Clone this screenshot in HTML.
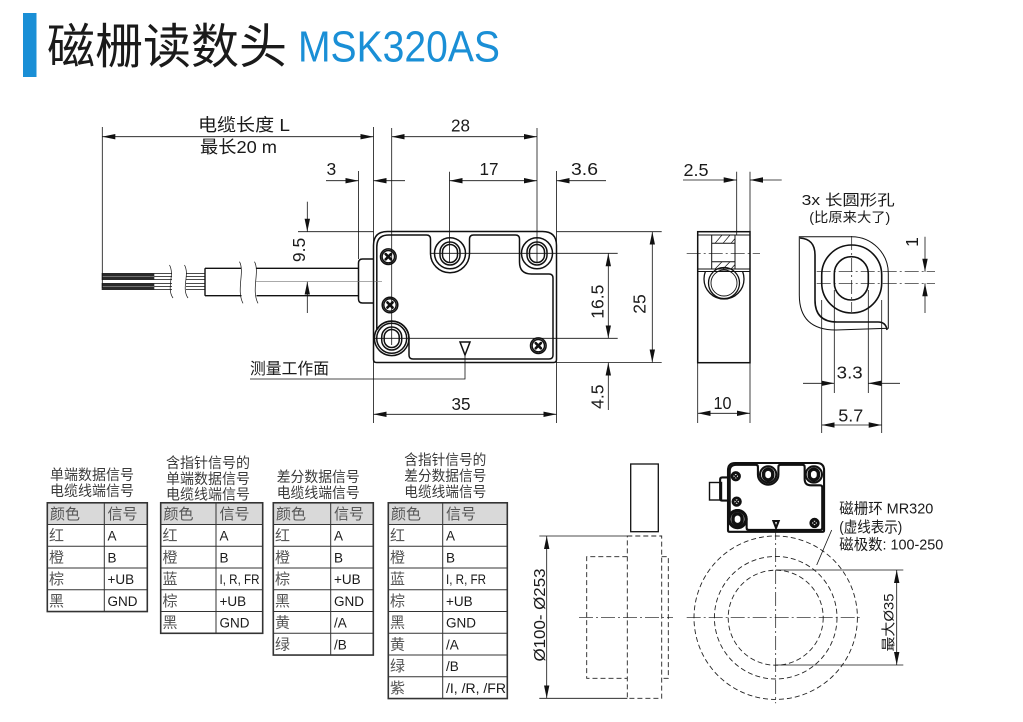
<!DOCTYPE html>
<html><head><meta charset="utf-8"><style>
html,body{margin:0;padding:0;background:#fff;}
svg{display:block;}
text{font-family:"Liberation Sans","Noto Sans CJK SC",sans-serif;fill:#1a1a1a;}
.d{stroke:#111;stroke-width:0.8;fill:none;}
.c{stroke:#111;stroke-width:0.7;fill:none;stroke-dasharray:14,3,2,3;}
.ds{stroke:#222;stroke-width:0.9;fill:none;stroke-dasharray:5,3;}
.cj{font-size:15px;fill:#555;}
.lt{font-size:13.5px;fill:#1a1a1a;}
.tt{font-size:14.5px;fill:#3a3a3a;}
</style></head><body>
<svg width="1023" height="722" viewBox="0 0 1023 722" xmlns="http://www.w3.org/2000/svg">
<defs>
<marker id="ar" viewBox="0 0 13 6" refX="13" refY="3" markerWidth="13" markerHeight="6" markerUnits="userSpaceOnUse" orient="auto-start-reverse"><path d="M0,0.3 L13,3 L0,5.7 Z" fill="#111"/></marker>
<clipPath id="clp"><rect x="690" y="271.5" width="70" height="40"/></clipPath>
<g id="body" fill="none">
<path d="M387.5,231.5 L542.5,231.5 Q556.5,231.5 556.5,245.5 L556.5,359.5 Q556.5,362.5 553.5,362.5 L376.5,362.5 Q373.5,362.5 373.5,359.5 L373.5,245.5 Q373.5,231.5 387.5,231.5 Z"/>
<path d="M376.8,329.7 L376.8,247 Q376.8,235 388.8,235 L426.5,235 Q430.5,235 430.5,239 L430.5,253.3 A19.5,19.5 0 0 0 469.5,253.3 L469.5,239 Q469.5,235 473.5,235 L515.5,235 Q519.5,235 519.5,239 L519.5,262 Q519.5,274 531.5,274 L549,274 Q553,274 553,278 L553,355 Q553,359 549,359 L413,359 Q409,359 409,355 L409,338.3 A17.3,17.3 0 0 0 376.8,329.7"/>
<circle cx="391.7" cy="338.3" r="17.3"/>
<circle cx="450" cy="253.3" r="15.5"/><rect x="440" y="242" width="20" height="23" rx="10"/><rect x="442.5" y="244.5" width="15" height="18" rx="7.5"/>
<circle cx="537" cy="253.3" r="15.5"/><rect x="527" y="242" width="20" height="23" rx="10"/><rect x="529.5" y="244.5" width="15" height="18" rx="7.5"/>
<circle cx="391.7" cy="338.3" r="15"/><rect x="381.7" y="327" width="20" height="23" rx="10"/><rect x="384.2" y="329.5" width="15" height="18" rx="7.5"/>
<g transform="translate(388.3,256.7)"><circle r="7.8"/><circle r="6.2"/><path d="M-2.6,-2.6 L2.6,2.6 M-2.6,2.6 L2.6,-2.6" stroke-width="2.6" stroke-linecap="round"/></g>
<g transform="translate(390,305)"><circle r="7.8"/><circle r="6.2"/><path d="M-2.6,-2.6 L2.6,2.6 M-2.6,2.6 L2.6,-2.6" stroke-width="2.6" stroke-linecap="round"/></g>
<g transform="translate(538.3,345.7)"><circle r="7.8"/><circle r="6.2"/><path d="M-2.6,-2.6 L2.6,2.6 M-2.6,2.6 L2.6,-2.6" stroke-width="2.6" stroke-linecap="round"/></g>
<path d="M460,342 L470,342 L465,355 Z"/>
<path d="M373.5,259 L362.5,259 Q358.5,259 358.5,263 L358.5,299 Q358.5,303 362.5,303 L373.5,303"/>
</g>
</defs>

<!-- Title -->
<rect x="23" y="13" width="13.5" height="64" fill="#1a8fd6"/>
<text x="47" y="63" font-size="48" textLength="240" lengthAdjust="spacingAndGlyphs" style="fill:#1a1a1a">磁栅读数头</text>
<text x="298" y="61.7" font-size="44" textLength="202" lengthAdjust="spacingAndGlyphs" style="fill:#1a8fd6">MSK320AS</text>

<!-- main body -->
<use href="#body" stroke="#111" stroke-width="1.5"/>

<!-- cable -->
<g stroke="#111" fill="none">
<path d="M205,268.3 L241.5,268.3 M256.5,268.3 L358.5,268.3 M205,295.7 L241.5,295.7 M256.5,295.7 L358.5,295.7 M205,268.3 L205,295.7" stroke-width="1.4"/>
<path d="M239.5,261.7 C245,272 236,290 243,303.3 M254.5,261.7 C260,272 251,290 258,303.3" stroke-width="0.7"/>
<path d="M169.5,265 C175,275 166,288 173,298 M184.5,265 C190,275 181,288 188,298" stroke-width="0.7"/>
<path d="M154,273.5 L172,273.5 M154,276.5 L172,276.5 M154,279.5 L172,279.5 M154,283.5 L172,283.5 M154,286.5 L172,286.5 M154,289.5 L172,289.5" stroke-width="0.8"/>
<path d="M186,273.5 L205,273.5 M186,276.5 L205,276.5 M186,279.5 L205,279.5 M186,283.5 L205,283.5 M186,286.5 L205,286.5 M186,289.5 L205,289.5" stroke-width="0.8"/>
</g>
<rect x="101.7" y="273" width="52.6" height="7" fill="#2a2a2a"/>
<rect x="101.7" y="283" width="52.6" height="7" fill="#2a2a2a"/>
<line x1="101.7" y1="276.5" x2="154.3" y2="276.5" stroke="#888" stroke-width="0.8"/>
<line x1="101.7" y1="286.5" x2="154.3" y2="286.5" stroke="#888" stroke-width="0.8"/>
<line x1="256" y1="281.7" x2="382" y2="281.7" stroke="#777" stroke-width="0.7"/>

<!-- main dims -->
<g class="d">
<line x1="102.3" y1="127" x2="102.3" y2="288"/>
<line x1="373.5" y1="127" x2="373.5" y2="423"/>
<line x1="102.3" y1="136.7" x2="373.5" y2="136.7" marker-start="url(#ar)" marker-end="url(#ar)"/>
<line x1="391.7" y1="128" x2="391.7" y2="345"/>
<line x1="537" y1="128" x2="537" y2="262"/>
<line x1="391.7" y1="136.7" x2="537" y2="136.7" marker-start="url(#ar)" marker-end="url(#ar)"/>
<line x1="358.5" y1="171" x2="358.5" y2="259"/>
<line x1="326" y1="180.7" x2="358.5" y2="180.7" marker-end="url(#ar)"/>
<line x1="405" y1="180.7" x2="373.5" y2="180.7" marker-end="url(#ar)"/>
<line x1="449.5" y1="171.7" x2="449.5" y2="262"/>
<line x1="449.5" y1="180.7" x2="537" y2="180.7" marker-start="url(#ar)" marker-end="url(#ar)"/>
<line x1="556.5" y1="171" x2="556.5" y2="423"/>
<line x1="606" y1="180.7" x2="556.5" y2="180.7" marker-end="url(#ar)"/>
<line x1="298" y1="231.7" x2="373.5" y2="231.7"/>
<line x1="307.3" y1="201.7" x2="307.3" y2="231.7" marker-end="url(#ar)"/>
<line x1="307.3" y1="313" x2="307.3" y2="281.7" marker-end="url(#ar)"/>
<line x1="430" y1="253.3" x2="617.7" y2="253.3"/>
<line x1="375" y1="338.3" x2="617.7" y2="338.3"/>
<line x1="608.3" y1="253.3" x2="608.3" y2="338.3" marker-start="url(#ar)" marker-end="url(#ar)"/>
<line x1="608.3" y1="410" x2="608.3" y2="362.5" marker-end="url(#ar)"/>
<line x1="556.5" y1="231.7" x2="661.7" y2="231.7"/>
<line x1="556.5" y1="362.5" x2="661.7" y2="362.5"/>
<line x1="652.3" y1="231.7" x2="652.3" y2="362.5" marker-start="url(#ar)" marker-end="url(#ar)"/>
<line x1="373.5" y1="414.3" x2="556.5" y2="414.3" marker-start="url(#ar)" marker-end="url(#ar)"/>
<polyline points="465,355 465,379 250,379"/>
</g>
<text x="198" y="131" font-size="17.5" textLength="92" lengthAdjust="spacingAndGlyphs">电缆长度 L</text>
<text x="200" y="153" font-size="17.5" textLength="77" lengthAdjust="spacingAndGlyphs">最长20 m</text>
<text x="451" y="131.5" font-size="17.5" textLength="19" lengthAdjust="spacingAndGlyphs">28</text>
<text x="479.5" y="175" font-size="17.5" textLength="19" lengthAdjust="spacingAndGlyphs">17</text>
<text x="571" y="175" font-size="17.5" textLength="27" lengthAdjust="spacingAndGlyphs">3.6</text>
<text x="326.5" y="175" font-size="17.5">3</text>
<text x="451.5" y="410" font-size="17.5" textLength="19" lengthAdjust="spacingAndGlyphs">35</text>
<text transform="translate(645.5,304) rotate(-90)" text-anchor="middle" font-size="17.5">25</text>
<text transform="translate(603.5,301.7) rotate(-90)" text-anchor="middle" font-size="17.5">16.5</text>
<text transform="translate(603.5,396.7) rotate(-90)" text-anchor="middle" font-size="17.5">4.5</text>
<text transform="translate(305,250) rotate(-90)" text-anchor="middle" font-size="17.5">9.5</text>
<text x="250" y="374" font-size="16" textLength="79" lengthAdjust="spacingAndGlyphs">测量工作面</text>

<!-- side view -->
<g stroke="#111" fill="none">
<rect x="697.7" y="231.7" width="52.3" height="131" stroke-width="1.5"/>
<path d="M697.7,235 L750,235 M711.7,235 L711.7,269 M735,235 L735,269 M711.7,243.3 L735,243.3 M711.7,261.7 L735,261.7 M697.7,269 L750,269 M697.7,271.5 L750,271.5" stroke-width="1"/>
<path d="M715,243.3 L722,235 M723,243.3 L730,235 M731,243.3 L735,238.5 M715,269 L722,261.7 M723,269 L730,261.7 M731,269 L735,264.5" stroke-width="0.7"/>
<circle cx="724" cy="279" r="20" stroke-width="1.3" clip-path="url(#clp)"/>
<circle cx="724" cy="283" r="15.5" stroke-width="1.3"/>
<circle cx="724" cy="283" r="13" stroke-width="0.9"/>
</g>
<line class="c" x1="686.7" y1="253.3" x2="760" y2="253.3"/>
<g class="d">
<line x1="736.7" y1="171.7" x2="736.7" y2="235"/>
<line x1="750" y1="171.7" x2="750" y2="232"/>
<line x1="683" y1="180" x2="736.7" y2="180" marker-end="url(#ar)"/>
<line x1="781.7" y1="180" x2="750" y2="180" marker-end="url(#ar)"/>
<line x1="697.7" y1="362" x2="697.7" y2="423"/>
<line x1="750" y1="362" x2="750" y2="423"/>
<line x1="697.7" y1="413.3" x2="750" y2="413.3" marker-start="url(#ar)" marker-end="url(#ar)"/>
</g>
<text x="683.5" y="176" font-size="17.5" textLength="25" lengthAdjust="spacingAndGlyphs">2.5</text>
<text x="713.5" y="409" font-size="17.5" textLength="18" lengthAdjust="spacingAndGlyphs">10</text>

<!-- enlarged hole -->
<g stroke="#111" fill="none">
<path d="M799.3,236.7 L851.7,236.7 A36.7,36.7 0 0 1 888.3,273.3 L888.3,328.3 L836,330 Q799.3,330 799.3,295 Z" stroke-width="1"/>
<path d="M800,238 Q815,239 815,255 L815,300 Q815,322 837,322 L878,322 Q886,322 887,330" stroke-width="1.6"/>
<rect x="821.7" y="245" width="60" height="68" rx="30" stroke-width="1.6"/>
<rect x="834.3" y="256.7" width="34" height="43.3" rx="17" stroke-width="1.6"/>
</g>
<line class="c" x1="851.7" y1="236" x2="851.7" y2="312"/>
<line class="c" x1="816.7" y1="271.7" x2="935" y2="271.7"/>
<line class="c" x1="816.7" y1="283.3" x2="935" y2="283.3"/>
<g class="d">
<line x1="925" y1="236.7" x2="925" y2="271.7" marker-end="url(#ar)"/>
<line x1="925" y1="313" x2="925" y2="283.3" marker-end="url(#ar)"/>
<line x1="834.3" y1="290" x2="834.3" y2="393"/>
<line x1="868.3" y1="290" x2="868.3" y2="393"/>
<line x1="803" y1="383.3" x2="834.3" y2="383.3" marker-end="url(#ar)"/>
<line x1="900" y1="383.3" x2="868.3" y2="383.3" marker-end="url(#ar)"/>
<line x1="821.7" y1="300" x2="821.7" y2="433"/>
<line x1="881.7" y1="300" x2="881.7" y2="433"/>
<line x1="821.7" y1="425" x2="881.7" y2="425" marker-start="url(#ar)" marker-end="url(#ar)"/>
</g>
<text x="801.7" y="205" font-size="15" textLength="93" lengthAdjust="spacingAndGlyphs">3x 长圆形孔</text>
<text x="809.3" y="222" font-size="13.5" textLength="81" lengthAdjust="spacingAndGlyphs">(比原来大了)</text>
<text transform="translate(918,242) rotate(-90)" text-anchor="middle" font-size="17.5">1</text>
<text x="836.7" y="378.5" font-size="17.5" textLength="26" lengthAdjust="spacingAndGlyphs">3.3</text>
<text x="838.3" y="421.5" font-size="17.5" textLength="25" lengthAdjust="spacingAndGlyphs">5.7</text>

<!-- tables -->
<g>
<rect x="47.3" y="502.8" width="100" height="21.75" fill="#d9d9d9"/>
<g stroke="#333" fill="none">
<rect x="47.3" y="502.8" width="100" height="108.75" stroke-width="1.6"/>
<path d="M47.3,524.55 H147.3 M47.3,546.3 H147.3 M47.3,568.05 H147.3 M47.3,589.8 H147.3 M104.3,502.8 V611.55" stroke-width="1"/>
</g>
<text class="tt" x="50" y="480" textLength="84" lengthAdjust="spacingAndGlyphs">单端数据信号</text>
<text class="tt" x="50" y="496" textLength="84" lengthAdjust="spacingAndGlyphs">电缆线端信号</text>
<text class="cj" x="50" y="518.8">颜色</text><text class="cj" x="107.5" y="518.8">信号</text>
<text class="cj" x="49" y="540.5">红</text><text class="lt" x="107.5" y="540.5">A</text>
<text class="cj" x="49" y="562.3">橙</text><text class="lt" x="107.5" y="562.3">B</text>
<text class="cj" x="49" y="584">棕</text><text class="lt" x="107.5" y="584">+UB</text>
<text class="cj" x="49" y="605.8">黑</text><text class="lt" x="107.5" y="605.8">GND</text>
</g>

<g>
<rect x="160.7" y="502.8" width="102" height="21.75" fill="#d9d9d9"/>
<g stroke="#333" fill="none">
<rect x="160.7" y="502.8" width="102" height="130.5" stroke-width="1.6"/>
<path d="M160.7,524.55 H262.7 M160.7,546.3 H262.7 M160.7,568.05 H262.7 M160.7,589.8 H262.7 M160.7,611.55 H262.7 M216,502.8 V633.3" stroke-width="1"/>
</g>
<text class="tt" x="166" y="468" textLength="84" lengthAdjust="spacingAndGlyphs">含指针信号的</text>
<text class="tt" x="166" y="484" textLength="84" lengthAdjust="spacingAndGlyphs">单端数据信号</text>
<text class="tt" x="166" y="499.5" textLength="84" lengthAdjust="spacingAndGlyphs">电缆线端信号</text>
<text class="cj" x="163.5" y="518.8">颜色</text><text class="cj" x="219.5" y="518.8">信号</text>
<text class="cj" x="162.5" y="540.5">红</text><text class="lt" x="219.5" y="540.5">A</text>
<text class="cj" x="162.5" y="562.3">橙</text><text class="lt" x="219.5" y="562.3">B</text>
<text class="cj" x="162.5" y="584">蓝</text><text class="lt" x="219.5" y="584" textLength="40" lengthAdjust="spacingAndGlyphs">I, R, FR</text>
<text class="cj" x="162.5" y="605.8">棕</text><text class="lt" x="219.5" y="605.8">+UB</text>
<text class="cj" x="162.5" y="627.5">黑</text><text class="lt" x="219.5" y="627.5">GND</text>
</g>

<g>
<rect x="273.3" y="502.8" width="100" height="21.75" fill="#d9d9d9"/>
<g stroke="#333" fill="none">
<rect x="273.3" y="502.8" width="100" height="152.25" stroke-width="1.6"/>
<path d="M273.3,524.55 H373.3 M273.3,546.3 H373.3 M273.3,568.05 H373.3 M273.3,589.8 H373.3 M273.3,611.55 H373.3 M273.3,633.3 H373.3 M330.7,502.8 V655.05" stroke-width="1"/>
</g>
<text class="tt" x="276.7" y="482" textLength="83" lengthAdjust="spacingAndGlyphs">差分数据信号</text>
<text class="tt" x="276.7" y="498" textLength="83" lengthAdjust="spacingAndGlyphs">电缆线端信号</text>
<text class="cj" x="276" y="518.8">颜色</text><text class="cj" x="334" y="518.8">信号</text>
<text class="cj" x="275" y="540.5">红</text><text class="lt" x="334" y="540.5">A</text>
<text class="cj" x="275" y="562.3">橙</text><text class="lt" x="334" y="562.3">B</text>
<text class="cj" x="275" y="584">棕</text><text class="lt" x="334" y="584">+UB</text>
<text class="cj" x="275" y="605.8">黑</text><text class="lt" x="334" y="605.8">GND</text>
<text class="cj" x="275" y="627.5">黄</text><text class="lt" x="334" y="627.5">/A</text>
<text class="cj" x="275" y="649.3">绿</text><text class="lt" x="334" y="649.3">/B</text>
</g>

<g>
<rect x="388.3" y="502.8" width="119" height="21.75" fill="#d9d9d9"/>
<g stroke="#333" fill="none">
<rect x="388.3" y="502.8" width="119" height="195.75" stroke-width="1.6"/>
<path d="M388.3,524.55 H507.3 M388.3,546.3 H507.3 M388.3,568.05 H507.3 M388.3,589.8 H507.3 M388.3,611.55 H507.3 M388.3,633.3 H507.3 M388.3,655.05 H507.3 M388.3,676.8 H507.3 M442.7,502.8 V698.55" stroke-width="1"/>
</g>
<text class="tt" x="404.3" y="465" textLength="82" lengthAdjust="spacingAndGlyphs">含指针信号的</text>
<text class="tt" x="404.3" y="481" textLength="82" lengthAdjust="spacingAndGlyphs">差分数据信号</text>
<text class="tt" x="404.3" y="497" textLength="82" lengthAdjust="spacingAndGlyphs">电缆线端信号</text>
<text class="cj" x="391" y="518.8">颜色</text><text class="cj" x="446" y="518.8">信号</text>
<text class="cj" x="390" y="540.5">红</text><text class="lt" x="446" y="540.5">A</text>
<text class="cj" x="390" y="562.3">橙</text><text class="lt" x="446" y="562.3">B</text>
<text class="cj" x="390" y="584">蓝</text><text class="lt" x="446" y="584" textLength="40" lengthAdjust="spacingAndGlyphs">I, R, FR</text>
<text class="cj" x="390" y="605.8">棕</text><text class="lt" x="446" y="605.8">+UB</text>
<text class="cj" x="390" y="627.5">黑</text><text class="lt" x="446" y="627.5">GND</text>
<text class="cj" x="390" y="649.3">黄</text><text class="lt" x="446" y="649.3">/A</text>
<text class="cj" x="390" y="671">绿</text><text class="lt" x="446" y="671">/B</text>
<text class="cj" x="390" y="692.8">紫</text><text class="lt" x="446" y="692.8" textLength="60" lengthAdjust="spacingAndGlyphs">/I, /R, /FR</text>
</g>

<!-- bottom left ring side view -->
<rect x="630.7" y="464" width="27.6" height="67.7" fill="none" stroke="#111" stroke-width="1.3"/>
<g class="d">
<line x1="539.3" y1="536" x2="627.3" y2="536"/>
<line x1="539.3" y1="698.3" x2="627.3" y2="698.3"/>
<line x1="546.7" y1="536" x2="546.7" y2="698.3" marker-start="url(#ar)" marker-end="url(#ar)"/>
</g>
<rect class="ds" x="627.3" y="536" width="34.4" height="162.3"/>
<path class="ds" d="M627.3,556.7 L586.7,556.7 L586.7,678.3 L627.3,678.3 M661.7,556.7 L668.3,556.7 L668.3,678.3 L661.7,678.3"/>
<line class="c" x1="579" y1="617.7" x2="673" y2="617.7"/>
<text transform="translate(545,615) rotate(-90)" text-anchor="middle" font-size="16" textLength="93" lengthAdjust="spacingAndGlyphs">Ø100- Ø253</text>

<!-- bottom right -->
<use href="#body" stroke="#111" stroke-width="4" transform="translate(728,463) scale(0.525) translate(-373.5,-231.5)"/>
<rect x="709.5" y="482.5" width="12" height="17.5" fill="none" stroke="#111" stroke-width="1.4"/>
<circle class="ds" cx="775.7" cy="617.7" r="81.7"/>
<circle class="ds" cx="775.7" cy="617.7" r="61.3"/>
<circle class="ds" cx="775.7" cy="617.7" r="47.5"/>
<line class="c" x1="686.7" y1="617.7" x2="861.7" y2="617.7"/>
<line class="c" x1="775.7" y1="526" x2="775.7" y2="703.3"/>
<g class="d">
<line x1="816.7" y1="565" x2="831.7" y2="530"/>
<line x1="775.7" y1="570" x2="903.3" y2="570"/>
<line x1="775.7" y1="665" x2="903.3" y2="665"/>
<line x1="896.7" y1="570" x2="896.7" y2="665" marker-start="url(#ar)" marker-end="url(#ar)"/>
</g>
<text x="839.3" y="513.5" font-size="15" textLength="94" lengthAdjust="spacingAndGlyphs">磁栅环 MR320</text>
<text x="839.3" y="532" font-size="15" textLength="63" lengthAdjust="spacingAndGlyphs">(虚线表示)</text>
<text x="839.3" y="549.5" font-size="15" textLength="104" lengthAdjust="spacingAndGlyphs">磁极数: 100-250</text>
<text transform="translate(893.3,622.5) rotate(-90)" text-anchor="middle" font-size="14" textLength="58" lengthAdjust="spacingAndGlyphs">最大Ø35</text>
</svg>
</body></html>
